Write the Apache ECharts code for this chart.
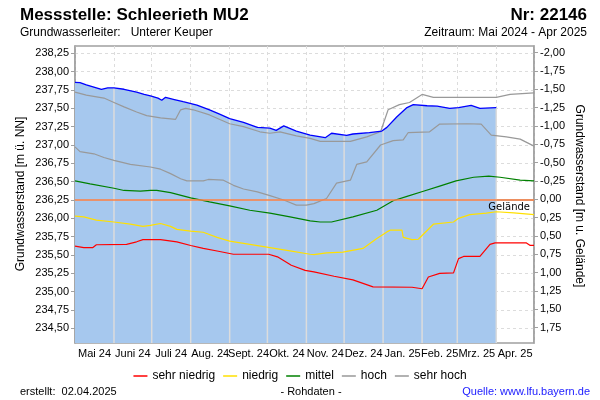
<!DOCTYPE html>
<html>
<head>
<meta charset="utf-8">
<script src="https://cdn.jsdelivr.net/npm/echarts@6/dist/echarts.min.js"></script>
<style>html,body{margin:0;padding:0;background:#fff}#c{width:600px;height:400px}</style>
</head>
<body>
<div id="c"></div>
<script>
// ---- data ----
const monthLabels = ['Mai 24','Juni 24','Juli 24','Aug. 24','Sept. 24','Okt. 24','Nov. 24','Dez. 24','Jan. 25','Feb. 25','Mrz. 25','Apr. 25'];
const leftTicks = [234.5,234.75,235,235.25,235.5,235.75,236,236.25,236.5,236.75,237,237.25,237.5,237.75,238,238.25];
const rightTicks = [-2,-1.75,-1.5,-1.25,-1,-0.75,-0.5,-0.25,0,0.25,0.5,0.75,1,1.25,1.5,1.75];
const gelaende = 236.26;

const messwerte = [
['2024-05-01',237.855],['2024-05-05',237.85],['2024-05-10',237.82],['2024-05-16',237.79],['2024-05-22',237.76],
['2024-05-27',237.78],['2024-06-01',237.78],['2024-06-09',237.76],['2024-06-19',237.72],['2024-06-25',237.69],
['2024-06-30',237.67],['2024-07-06',237.64],['2024-07-09',237.61],['2024-07-12',237.65],['2024-07-19',237.62],
['2024-07-26',237.59],['2024-08-06',237.545],['2024-08-16',237.48],['2024-08-24',237.42],['2024-09-01',237.36],
['2024-09-12',237.31],['2024-09-23',237.24],['2024-10-03',237.23],['2024-10-08',237.2],['2024-10-14',237.26],
['2024-10-24',237.19],['2024-11-04',237.135],['2024-11-16',237.10],['2024-11-21',237.16],['2024-12-03',237.13],
['2024-12-08',237.15],['2024-12-21',237.17],['2024-12-31',237.19],['2025-01-04',237.24],['2025-01-12',237.385],
['2025-01-20',237.51],['2025-01-25',237.55],['2025-02-05',237.535],['2025-02-13',237.53],['2025-02-23',237.50],
['2025-03-02',237.51],['2025-03-12',237.54],['2025-03-19',237.50],['2025-04-01',237.51]
];
const sehrHoch = [
['2024-05-01',237.72],['2024-05-10',237.68],['2024-05-24',237.64],['2024-06-01',237.58],['2024-06-09',237.52],
['2024-06-19',237.45],['2024-06-27',237.40],['2024-07-08',237.37],['2024-07-20',237.35],['2024-07-24',237.48],
['2024-07-28',237.50],['2024-08-03',237.48],['2024-08-16',237.41],['2024-09-01',237.29],['2024-09-12',237.25],
['2024-09-25',237.18],['2024-10-03',237.16],['2024-10-11',237.18],['2024-10-24',237.125],['2024-11-04',237.09],
['2024-11-12',237.05],['2024-12-06',237.05],['2024-12-19',237.11],['2024-12-30',237.18],['2025-01-05',237.48],
['2025-01-14',237.55],['2025-01-22',237.58],['2025-02-01',237.69],['2025-02-10',237.65],['2025-04-01',237.65],
['2025-04-12',237.69],['2025-05-01',237.71]
];
const hoch = [
['2024-05-01',236.975],['2024-05-05',236.91],['2024-05-16',236.88],['2024-05-24',236.83],['2024-06-01',236.79],
['2024-06-14',236.735],['2024-06-30',236.70],['2024-07-08',236.67],['2024-07-16',236.61],['2024-07-24',236.54],
['2024-07-29',236.51],['2024-08-11',236.51],['2024-08-15',236.53],['2024-08-27',236.52],['2024-09-04',236.45],
['2024-09-12',236.40],['2024-09-23',236.36],['2024-10-03',236.31],['2024-10-14',236.25],['2024-10-24',236.18],
['2024-11-01',236.18],['2024-11-07',236.20],['2024-11-17',236.27],['2024-11-25',236.48],['2024-12-06',236.52],
['2024-12-11',236.735],['2024-12-19',236.77],['2024-12-30',237.0],['2025-01-09',237.06],['2025-01-17',237.07],
['2025-01-21',237.17],['2025-02-07',237.18],['2025-02-15',237.285],['2025-03-09',237.29],['2025-03-20',237.285],
['2025-03-28',237.135],['2025-04-09',237.11],['2025-04-20',237.08],['2025-05-01',236.985]
];
const mittel = [
['2024-05-01',236.51],['2024-05-13',236.47],['2024-06-01',236.41],['2024-06-09',236.38],['2024-06-22',236.37],
['2024-06-30',236.38],['2024-07-05',236.38],['2024-07-16',236.35],['2024-08-01',236.28],['2024-08-16',236.225],
['2024-09-01',236.17],['2024-09-17',236.11],['2024-10-03',236.07],['2024-10-19',236.02],['2024-11-04',235.965],
['2024-11-12',235.95],['2024-11-21',235.95],['2024-12-08',236.02],['2024-12-27',236.11],['2025-01-09',236.24],
['2025-01-20',236.30],['2025-02-02',236.37],['2025-02-15',236.44],['2025-02-28',236.51],['2025-03-14',236.56],
['2025-03-26',236.575],['2025-04-04',236.56],['2025-04-20',236.52],['2025-05-01',236.51]
];
const niedrig = [
['2024-05-01',236.03],['2024-05-08',236.02],['2024-05-18',235.975],['2024-06-01',235.95],['2024-06-14',235.92],
['2024-06-24',235.89],['2024-06-30',235.905],['2024-07-08',235.93],['2024-07-16',235.89],['2024-07-21',235.85],
['2024-08-01',235.825],['2024-08-11',235.81],['2024-08-22',235.74],['2024-09-01',235.69],['2024-09-17',235.645],
['2024-10-03',235.60],['2024-10-19',235.555],['2024-11-04',235.51],['2024-11-07',235.506],['2024-11-17',235.53],
['2024-11-30',235.54],['2024-12-16',235.59],['2024-12-27',235.725],['2025-01-04',235.815],['2025-01-07',235.84],
['2025-01-16',235.84],['2025-01-17',235.74],['2025-01-24',235.71],['2025-01-29',235.715],['2025-02-10',235.92],
['2025-02-26',235.95],['2025-03-02',236.0],['2025-03-11',236.05],['2025-03-24',236.07],['2025-04-01',236.09],
['2025-04-15',236.075],['2025-05-01',236.05]
];
const sehrNiedrig = [
['2024-05-01',235.62],['2024-05-08',235.60],['2024-05-15',235.60],['2024-05-18',235.64],['2024-06-11',235.645],
['2024-06-19',235.68],['2024-06-24',235.71],['2024-07-08',235.71],['2024-07-21',235.68],['2024-08-01',235.63],
['2024-08-11',235.59],['2024-08-22',235.555],['2024-09-04',235.51],['2024-10-02',235.51],['2024-10-09',235.475],
['2024-10-20',235.36],['2024-10-31',235.29],['2024-11-07',235.27],['2024-11-23',235.21],['2024-12-08',235.16],
['2024-12-24',235.065],['2025-01-24',235.06],['2025-02-01',235.04],['2025-02-06',235.20],['2025-02-15',235.25],
['2025-02-26',235.256],['2025-03-02',235.45],['2025-03-06',235.48],['2025-03-19',235.48],['2025-03-27',235.645],
['2025-03-31',235.665],['2025-04-25',235.665],['2025-04-28',235.63],['2025-05-01',235.63]
];

// ---- helpers ----
const yMin = 234.3, yMax = 238.35;
const FONT = 'Liberation Sans, Arial, sans-serif';
const monthStarts = [];
for (let i = 0; i <= 12; i++) monthStarts.push(+new Date(2024, 4 + i, 1));
const monthMids = [];
for (let i = 0; i < 12; i++) monthMids.push((monthStarts[i] + monthStarts[i + 1]) / 2);
const ts = s => { const p = s.split('-'); return +new Date(+p[0], +p[1] - 1, +p[2]); };
const toXY = arr => arr.map(d => [ts(d[0]), d[1]]);
function interp(arr, t) {
  for (let i = 0; i < arr.length - 1; i++) {
    const a = arr[i][0], b = arr[i + 1][0];
    if (t >= a && t <= b) return arr[i][1] + (arr[i + 1][1] - arr[i][1]) * (t - a) / (b - a);
  }
  return null;
}
const mw = toXY(messwerte);
const vlines = monthStarts.slice(1, 12).map(t => [t, interp(mw, t)]).filter(d => d[1] != null);
const fmt = v => v.toFixed(2).replace('.', ',');
const monthOf = v => { for (let i = 0; i < 12; i++) if (v >= monthStarts[i] && v < monthStarts[i + 1]) return monthLabels[i]; return ''; };

const chart = echarts.init(document.getElementById('c'), null, {renderer: 'canvas'});
chart.setOption({
  animation: false,
  textStyle: {fontFamily: FONT},
  grid: {left: 75, right: 66, top: 46, bottom: 57, show: true, borderColor: '#a0a0a0', borderWidth: 1.5, backgroundColor: 'transparent'},
  xAxis: {
    type: 'value', min: monthStarts[0], max: monthStarts[12],
    axisLine: {lineStyle: {color: '#a0a0a0', width: 1.5}},
    axisTick: {customValues: monthStarts, length: 4, lineStyle: {color: '#a0a0a0'}},
    axisLabel: {customValues: monthMids, color: '#000', fontSize: 11, fontFamily: FONT, margin: 5, formatter: monthOf},
    splitLine: {show: true, lineStyle: {color: '#dcdcdc', type: [3, 3], width: 1}}
  },
  yAxis: [{
    type: 'value', min: yMin, max: yMax, position: 'left',
    axisLine: {show: true, lineStyle: {color: '#a0a0a0', width: 1.5}},
    axisTick: {show: true, customValues: leftTicks, length: 4, lineStyle: {color: '#a0a0a0'}},
    axisLabel: {customValues: leftTicks, color: '#000', fontSize: 11, fontFamily: FONT, margin: 6, formatter: fmt},
    splitLine: {show: true, lineStyle: {color: '#dcdcdc', type: [3, 3], width: 1}}
  }, {
    type: 'value', min: gelaende - yMax, max: gelaende - yMin, inverse: true, position: 'right',
    axisLine: {show: true, lineStyle: {color: '#a0a0a0', width: 1.5}},
    axisTick: {show: true, customValues: rightTicks, length: 4, lineStyle: {color: '#a0a0a0'}},
    axisLabel: {customValues: rightTicks, color: '#000', fontSize: 11, fontFamily: FONT, margin: 6, formatter: fmt},
    splitLine: {show: false}
  }],
  legend: {
    data: ['sehr niedrig', 'niedrig', 'mittel', 'hoch', 'sehr hoch'],
    left: 'center', top: 365, icon: 'rect', itemWidth: 14, itemHeight: 1.5, itemGap: 8,
    textStyle: {fontSize: 12, color: '#000', fontFamily: FONT}, selectedMode: false
  },
  graphic: [
    {type: 'text', left: 20, top: 7, style: {text: 'Messstelle: Schleerieth MU2', font: 'bold 17px ' + FONT, fill: '#000'}},
    {type: 'text', right: 13, top: 7, style: {text: 'Nr: 22146', font: 'bold 17px ' + FONT, fill: '#000'}},
    {type: 'text', left: 20, top: 27, style: {text: 'Grundwasserleiter:   Unterer Keuper', font: '12px ' + FONT, fill: '#000'}},
    {type: 'text', right: 13, top: 27, style: {text: 'Zeitraum: Mai 2024 - Apr 2025', font: '12px ' + FONT, fill: '#000'}},
    {type: 'text', x: 21, y: 194, rotation: Math.PI / 2, style: {text: 'Grundwasserstand [m ü. NN]', font: '12px ' + FONT, fill: '#000', align: 'center', verticalAlign: 'middle'}},
    {type: 'text', x: 579, y: 196, rotation: -Math.PI / 2, style: {text: 'Grundwasserstand [m u. Gelände]', font: '12px ' + FONT, fill: '#000', align: 'center', verticalAlign: 'middle'}},
    {type: 'text', left: 20, top: 386, style: {text: 'erstellt:  02.04.2025', font: '11px ' + FONT, fill: '#000'}},
    {type: 'text', x: 311, y: 392, style: {text: '- Rohdaten -', font: '11px ' + FONT, fill: '#000', align: 'center', verticalAlign: 'middle'}},
    {type: 'text', right: 10, top: 386, style: {text: 'Quelle: www.lfu.bayern.de', font: '11px ' + FONT, fill: '#2020ff'}}
  ],
  series: [
    {name: 'fill', type: 'line', data: mw, symbol: 'none', z: 1,
      lineStyle: {width: 0}, areaStyle: {color: '#a6c8ee', opacity: 1, origin: 'start'}, silent: true},
    {name: 'vlines', type: 'custom', data: vlines, z: 2, silent: true,
      renderItem: (params, api) => {
        const p1 = api.coord([api.value(0), yMin]);
        const p2 = api.coord([api.value(0), api.value(1)]);
        return {type: 'line', shape: {x1: p1[0], y1: p1[1], x2: p2[0], y2: p2[1]}, style: {stroke: '#dcdcdc', lineWidth: 1.5}};
      }},
    {name: 'sehr hoch', type: 'line', data: toXY(sehrHoch), symbol: 'none', z: 3, color: '#999999', lineStyle: {width: 1.2, color: '#999999'}},
    {name: 'hoch', type: 'line', data: toXY(hoch), symbol: 'none', z: 3, color: '#999999', lineStyle: {width: 1.2, color: '#999999'}},
    {name: 'mittel', type: 'line', data: toXY(mittel), symbol: 'none', z: 3, color: '#008000', lineStyle: {width: 1.2, color: '#008000'}},
    {name: 'niedrig', type: 'line', data: toXY(niedrig), symbol: 'none', z: 3, color: '#ffe000', lineStyle: {width: 1.2, color: '#ffe000'}},
    {name: 'sehr niedrig', type: 'line', data: toXY(sehrNiedrig), symbol: 'none', z: 3, color: '#ff0000', lineStyle: {width: 1.2, color: '#ff0000'},
      markLine: {silent: true, symbol: 'none', animation: false,
        lineStyle: {color: '#ff8040', type: 'solid', width: 1.5},
        label: {show: true, position: 'insideEndBottom', formatter: 'Gelände', color: '#000', fontSize: 10, fontFamily: 'DejaVu Sans', distance: [4, 3]},
        data: [{yAxis: gelaende}]}},
    {name: 'messwerte', type: 'line', data: mw, symbol: 'none', z: 4, lineStyle: {width: 1.3, color: '#0000ff'}}
  ]
});
</script>
</body>
</html>
